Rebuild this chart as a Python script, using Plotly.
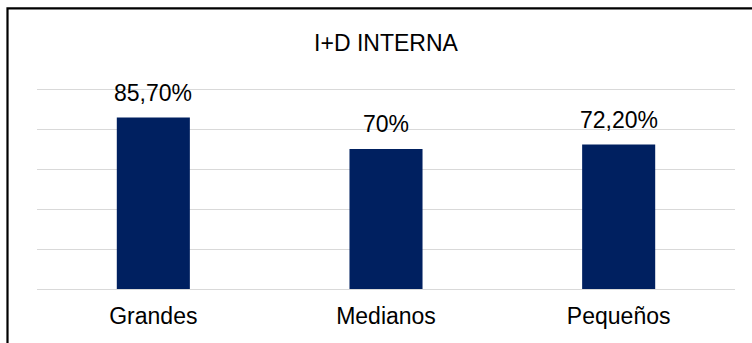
import plotly.graph_objects as go

categories = ["Grandes", "Medianos", "Pequeños"]
values = [85.7, 70.0, 72.2]
value_labels = ["85,70%", "70%", "72,20%"]
title_text = "I+D INTERNA"

FONT = "Liberation Sans, Arial, sans-serif"
W, H = 752, 343
L, R, T, B = 37, 17, 85, 54

fig = go.Figure()
fig.add_trace(go.Bar(
    x=categories, y=values,
    marker=dict(color="#002060", line=dict(width=0)),
    hoverinfo="skip",
))

for c, v, t in zip(categories, values, value_labels):
    fig.add_annotation(x=c, y=v, text=t, showarrow=False, xref="x", yref="y",
                       yanchor="bottom", yshift=10,
                       font=dict(family=FONT, size=23, color="#000000"))

plot_h = H - T - B
plot_w = W - L - R
bx0 = (7.5 - L) / plot_w
by1 = (H - B - 8.3) / plot_h
fig.add_shape(type="rect", xref="paper", yref="paper",
              x0=bx0, x1=1.2, y0=-1.0, y1=by1,
              line=dict(color="#000000", width=2.2), fillcolor="rgba(0,0,0,0)", layer="above")

fig.update_layout(
    width=W, height=H,
    margin=dict(l=L, r=R, t=T, b=B, pad=0),
    paper_bgcolor="#ffffff", plot_bgcolor="#ffffff",
    showlegend=False,
    bargap=0.686,
    title=dict(text=title_text, x=0.5, xref="paper", xanchor="center", y=1 - 42.7 / H,
               yanchor="middle", yref="container",
               font=dict(family=FONT, size=23, color="#000000")),
    font=dict(family=FONT, size=23, color="#000000"),
    xaxis=dict(showgrid=False, showline=False, zeroline=False, ticks="",
               tickfont=dict(family=FONT, size=23, color="#000000"), ticklabelstandoff=11),
    yaxis=dict(range=[0, 102], dtick=20, tick0=0, showticklabels=False, showgrid=True,
               gridcolor="#d9d9d9", gridwidth=1, zeroline=True, zerolinecolor="#d9d9d9",
               zerolinewidth=1, showline=False, ticks=""),
)

fig.write_html("out.html")
